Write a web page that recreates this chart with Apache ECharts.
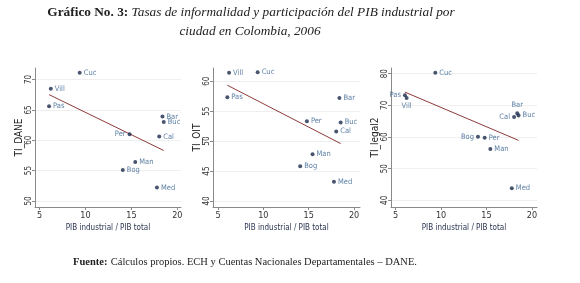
<!DOCTYPE html>
<html>
<head>
<meta charset="utf-8">
<script src="https://cdn.jsdelivr.net/npm/echarts@6/dist/echarts.min.js"></script>
<style>
  html, body { margin: 0; padding: 0; background: #fff; }
  #chart { width: 580px; height: 283px; }
</style>
</head>
<body>
<div id="chart"></div>
<script>
// ciudades y participación del PIB industrial (eje x, común a los 3 paneles)
const cities = ['Cuc', 'Vill', 'Pas', 'Bar', 'Buc', 'Per', 'Cal', 'Man', 'Bog', 'Med'];
const pibShare = [9.37, 6.22, 6.03, 18.38, 18.52, 14.8, 18.03, 15.42, 14.06, 17.78];

// tasas de informalidad por definición
const tiDane = [71.1, 68.5, 65.6, 63.9, 63.0, 61.0, 60.6, 56.4, 55.1, 52.2];
const tiOit = [61.5, 61.4, 57.3, 57.2, 53.1, 53.3, 51.6, 47.8, 45.8, 43.2];
const tiLegal = [80.3, 72.3, 73.2, 67.5, 66.8, 59.8, 66.3, 56.2, 60.1, 43.8];

// marcas de los ejes
const xTicks = [5, 10, 15, 20];
const yTicks1 = [50, 55, 60, 65, 70];
const yTicks2 = [40, 45, 50, 55, 60];
const yTicks3 = [40, 50, 60, 70, 80];

const panelNames = ['TI_DANE', 'TI_OIT', 'TI_legal2'];
const xName = 'PIB industrial / PIB total';

// posición de etiquetas (solo estilo)
const labelPos = [
  { Per: 'left' },
  {},
  { Pas: 'left', Vill: 'bottom', Bar: 'top', Cal: 'left', Bog: 'left' }
];

const narrow = "'Liberation Sans Narrow', 'DejaVu Sans Condensed', Arial, sans-serif";
const serif = "'Liberation Serif', 'DejaVu Serif', serif";

// recta de ajuste por MCO
function fitLine(xs, ys) {
  const n = xs.length;
  const mx = xs.reduce((a, b) => a + b, 0) / n;
  const my = ys.reduce((a, b) => a + b, 0) / n;
  let sxy = 0;
  let sxx = 0;
  xs.forEach((x, i) => {
    sxy += (x - mx) * (ys[i] - my);
    sxx += (x - mx) * (x - mx);
  });
  const b = sxy / sxx;
  const a = my - b * mx;
  const lo = Math.min(...xs);
  const hi = Math.max(...xs);
  return [[lo, a + b * lo], [hi, a + b * hi]];
}

const grids = [
  { left: 35, top: 68, width: 146, height: 139 },
  { left: 213, top: 68, width: 147, height: 139 },
  { left: 391, top: 68, width: 146, height: 139 }
];
const xRanges = [[4.5, 20.4], [4.45, 20.65], [4.5, 20.55]];
const yRanges = [[49, 71.9], [39, 62.2], [37.9, 81.8]];
const yTicks = [yTicks1, yTicks2, yTicks3];
const yData = [tiDane, tiOit, tiLegal];

const axisColor = '#8a8a8a';

const xAxes = grids.map((g, i) => ({
  type: 'value',
  gridIndex: i,
  min: xRanges[i][0],
  max: xRanges[i][1],
  name: xName,
  nameLocation: 'middle',
  nameGap: 17,
  nameTextStyle: { fontFamily: narrow, fontSize: 8, color: '#2b3550' },
  axisLine: { show: true, lineStyle: { color: axisColor, width: 1 } },
  axisTick: { show: true, length: 3, lineStyle: { color: axisColor }, customValues: xTicks },
  axisLabel: { fontFamily: narrow, fontSize: 9, color: '#333', margin: 4, customValues: xTicks },
  splitLine: { show: false }
}));

const yAxes = grids.map((g, i) => ({
  type: 'value',
  gridIndex: i,
  min: yRanges[i][0],
  max: yRanges[i][1],
  name: panelNames[i],
  nameLocation: 'middle',
  nameGap: 11,
  nameTextStyle: { fontFamily: narrow, fontSize: 10, color: '#222' },
  axisLine: { show: true, lineStyle: { color: axisColor, width: 1 } },
  axisTick: { show: true, length: 3, lineStyle: { color: axisColor }, customValues: yTicks[i] },
  axisLabel: { fontFamily: narrow, fontSize: 8, color: '#333', margin: 2, rotate: 90, customValues: yTicks[i] },
  splitLine: { show: true, lineStyle: { color: '#efefef', width: 1 } }
}));

const series = [];
yData.forEach((ys, i) => {
  series.push({
    type: 'line',
    xAxisIndex: i,
    yAxisIndex: i,
    data: fitLine(pibShare, ys),
    showSymbol: false,
    symbol: 'none',
    silent: true,
    lineStyle: { color: '#8e3a3a', width: 1 },
    z: 1
  });
  series.push({
    type: 'scatter',
    xAxisIndex: i,
    yAxisIndex: i,
    symbolSize: 4,
    itemStyle: { color: '#1b2b4b' },
    z: 2,
    label: {
      show: true,
      position: 'right',
      distance: 2,
      formatter: '{b}',
      fontFamily: narrow,
      fontSize: 7.5,
      color: '#35608f'
    },
    data: cities.map((c, k) => {
      const item = { name: c, value: [pibShare[k], ys[k]] };
      if (labelPos[i][c]) {
        item.label = { position: labelPos[i][c] };
      }
      return item;
    })
  });
});

const chart = echarts.init(document.getElementById('chart'), null, { renderer: 'canvas' });
chart.setOption({
  backgroundColor: '#fff',
  animation: false,
  grid: grids,
  xAxis: xAxes,
  yAxis: yAxes,
  series: series,
  graphic: [
    {
      type: 'text',
      x: 251,
      y: 6,
      style: {
        text: '{b|Gráfico No. 3:} {i|Tasas de informalidad y participación del PIB industrial por}',
        align: 'center',
        rich: {
          b: { fontFamily: serif, fontSize: 13.3, fontWeight: 'bold', fill: '#222' },
          i: { fontFamily: serif, fontSize: 13.3, fontStyle: 'italic', fill: '#222' }
        }
      }
    },
    {
      type: 'text',
      x: 250,
      y: 25,
      style: {
        text: 'ciudad en Colombia, 2006',
        align: 'center',
        fontFamily: serif,
        fontSize: 13.3,
        fontStyle: 'italic',
        fill: '#222'
      }
    },
    {
      type: 'text',
      x: 245,
      y: 256,
      style: {
        text: '{b|Fuente:} {n|Cálculos propios. ECH y Cuentas Nacionales Departamentales – DANE.}',
        align: 'center',
        rich: {
          b: { fontFamily: serif, fontSize: 10.5, fontWeight: 'bold', fill: '#222' },
          n: { fontFamily: serif, fontSize: 10.5, fill: '#222' }
        }
      }
    }
  ]
});
</script>
</body>
</html>
